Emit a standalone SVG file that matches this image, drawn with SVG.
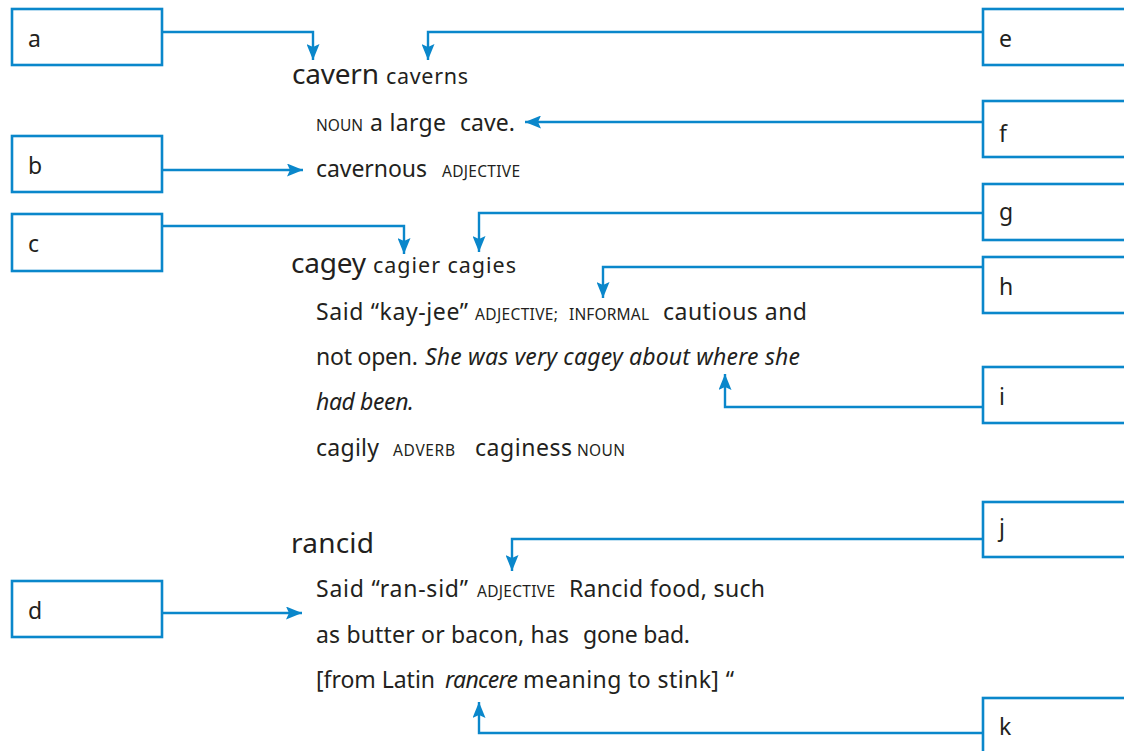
<svg xmlns="http://www.w3.org/2000/svg" width="1124" height="751" viewBox="0 0 1124 751">
<style>
.box{fill:#fff;stroke:#0a87cb;stroke-width:2.6}
.lbl{font-family:"Noto Sans",sans-serif;font-size:23px;fill:#231f20}
.con{fill:none;stroke:#0a87cb;stroke-width:2.4}
.hw{font-family:"Noto Sans",sans-serif;font-size:28px;fill:#231f20}
.inf{font-family:"Noto Sans",sans-serif;font-size:21.5px;fill:#231f20}
.bd{font-family:"Noto Sans",sans-serif;font-size:23px;fill:#231f20}
.it{font-family:"Noto Sans",sans-serif;font-size:23px;font-style:italic;fill:#231f20}
.sc{font-family:"Noto Sans",sans-serif;font-size:15.5px;fill:#231f20}
</style>
<defs>
<marker id="ah" markerUnits="userSpaceOnUse" markerWidth="17" markerHeight="13" refX="16" refY="6.5" orient="auto">
<path d="M0,0 L16,6.5 L0,13 L3,6.5 z" fill="#0a87cb"/>
</marker>
</defs>
<rect width="1124" height="751" fill="#fff"/>
<g id="connectors">
<path class="con" d="M162,32 H313 V60" marker-end="url(#ah)"/>
<path class="con" d="M983,32 H428 V60" marker-end="url(#ah)"/>
<path class="con" d="M983,122 H525" marker-end="url(#ah)"/>
<path class="con" d="M162,170 H303" marker-end="url(#ah)"/>
<path class="con" d="M162,226 H404 V254" marker-end="url(#ah)"/>
<path class="con" d="M983,213 H479 V252" marker-end="url(#ah)"/>
<path class="con" d="M983,267 H603 V298" marker-end="url(#ah)"/>
<path class="con" d="M983,407 H725 V374" marker-end="url(#ah)"/>
<path class="con" d="M983,539 H512 V571" marker-end="url(#ah)"/>
<path class="con" d="M162,613 H302" marker-end="url(#ah)"/>
<path class="con" d="M983,733 H479 V702" marker-end="url(#ah)"/>
</g>
<g id="box-a"><rect class="box" x="12" y="9" width="150" height="56"/><text class="lbl" x="28" y="47">a</text></g>
<g id="box-b"><rect class="box" x="12" y="136" width="150" height="56"/><text class="lbl" x="28" y="174">b</text></g>
<g id="box-c"><rect class="box" x="12" y="214" width="150" height="57"/><text class="lbl" x="28" y="252">c</text></g>
<g id="box-d"><rect class="box" x="12" y="581" width="150" height="56"/><text class="lbl" x="28" y="619">d</text></g>
<g id="box-e"><rect class="box" x="983" y="9" width="160" height="56"/><text class="lbl" x="999" y="47">e</text></g>
<g id="box-f"><rect class="box" x="983" y="101" width="160" height="56"/><text class="lbl" x="999" y="142">f</text></g>
<g id="box-g"><rect class="box" x="983" y="184" width="160" height="56"/><text class="lbl" x="999" y="220">g</text></g>
<g id="box-h"><rect class="box" x="983" y="257" width="160" height="56"/><text class="lbl" x="999" y="295">h</text></g>
<g id="box-i"><rect class="box" x="983" y="367" width="160" height="56"/><text class="lbl" x="999" y="405">i</text></g>
<g id="box-j"><rect class="box" x="983" y="502" width="160" height="55"/><text class="lbl" x="999" y="536">j</text></g>
<g id="box-k"><rect class="box" x="983" y="698" width="160" height="60"/><text class="lbl" x="999" y="735">k</text></g>
<g id="entry-cavern">
<text class="hw" x="292" y="84" textLength="87">cavern</text>
<text class="inf" x="386" y="84" textLength="82">caverns</text>
<text class="sc" x="316" y="131" textLength="47">NOUN</text>
<text class="bd" x="370" y="131" textLength="76">a large</text>
<text class="bd" x="460" y="131" textLength="55">cave.</text>
<text class="bd" x="316" y="177" textLength="111">cavernous</text>
<text class="sc" x="442" y="177" textLength="78">ADJECTIVE</text>
</g>
<g id="entry-cagey">
<text class="hw" x="291" y="273" textLength="75">cagey</text>
<text class="inf" x="373" y="273" textLength="143">cagier cagies</text>
<text class="bd" x="316" y="320" textLength="152">Said “kay-jee”</text>
<text class="sc" x="475" y="320" textLength="83">ADJECTIVE;</text>
<text class="sc" x="569" y="320" textLength="80">INFORMAL</text>
<text class="bd" x="663" y="320" textLength="144">cautious and</text>
<text class="bd" x="316" y="365" textLength="102">not open.</text>
<text class="it" x="425" y="365" textLength="375">She was very cagey about where she</text>
<text class="it" x="316" y="410" textLength="98">had been.</text>
<text class="bd" x="316" y="456" textLength="63">cagily</text>
<text class="sc" x="393" y="456" textLength="62">ADVERB</text>
<text class="bd" x="475" y="456" textLength="97">caginess</text>
<text class="sc" x="577" y="456" textLength="48">NOUN</text>
</g>
<g id="entry-rancid">
<text class="hw" x="291" y="553" textLength="83">rancid</text>
<text class="bd" x="316" y="597" textLength="152">Said “ran-sid”</text>
<text class="sc" x="477" y="597" textLength="78">ADJECTIVE</text>
<text class="bd" x="569" y="597" textLength="196">Rancid food, such</text>
<text class="bd" x="316" y="643" textLength="253">as butter or bacon, has</text>
<text class="bd" x="583" y="643" textLength="107">gone bad.</text>
<text class="bd" x="316" y="688" textLength="119">[from Latin</text>
<text class="it" x="445" y="688" textLength="73">rancere</text>
<text class="bd" x="523" y="688" textLength="211">meaning to stink] “</text>
</g>
</svg>
